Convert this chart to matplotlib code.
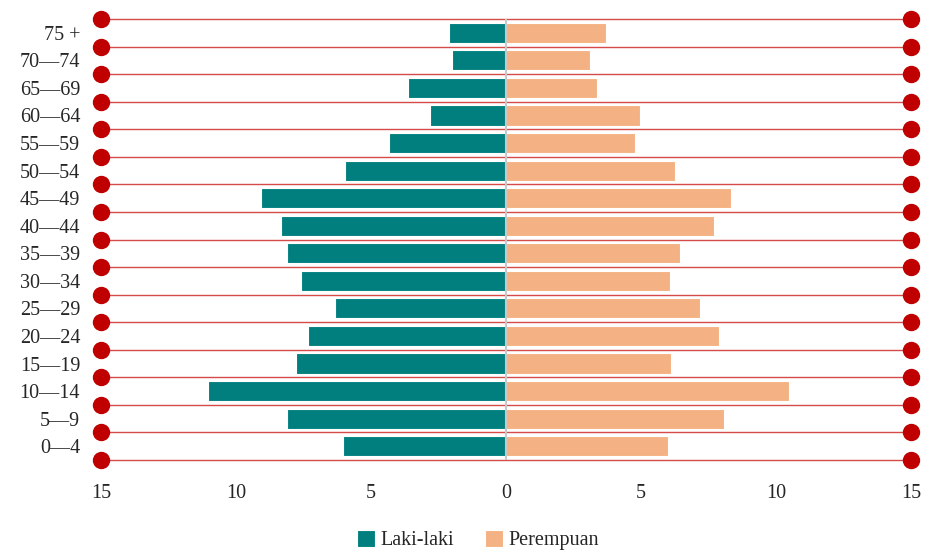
import matplotlib
matplotlib.use("Agg")
import matplotlib.pyplot as plt
import numpy as np

categories = ["0—4", "5—9", "10—14", "15—19", "20—24", "25—29", "30—34", "35—39",
              "40—44", "45—49", "50—54", "55—59", "60—64", "65—69", "70—74", "75 +"]
laki = [6.04, 8.11, 11.04, 7.78, 7.33, 6.33, 7.59, 8.11, 8.33, 9.07, 5.96, 4.33, 2.81, 3.63, 2.0, 2.11]
perempuan = [6.0, 8.07, 10.48, 6.11, 7.89, 7.19, 6.07, 6.44, 7.70, 8.33, 6.26, 4.78, 4.96, 3.37, 3.11, 3.70]
xticks = [-15, -10, -5, 0, 5, 10, 15]
xticklabels = ["15", "10", "5", "0", "5", "10", "15"]

plt.rcParams['font.family'] = ['Liberation Serif', 'DejaVu Serif']

fig = plt.figure(figsize=(9.25, 5.53), dpi=100)
ax = fig.add_axes([101/925, 1-460/553, (911-101)/925, (460-19)/553])

y = np.arange(len(categories))
ax.barh(y, [-v for v in laki], height=0.73, color="#017f7e", edgecolor="white", linewidth=0.8, label="Laki-laki", zorder=3)
ax.barh(y, perempuan, height=0.73, color="#f4b183", edgecolor="white", linewidth=0.8, label="Perempuan", zorder=3)

for b in np.arange(-0.5, len(categories), 1.0):
    ax.plot([-15, 15], [b, b], color="#d64a4a", linewidth=1.0, zorder=2,
            solid_capstyle="butt", clip_on=False)
    ax.plot([-15, 15], [b, b], linestyle="none", marker="o", markersize=11.5,
            color="#c00000", zorder=5, clip_on=False)

ax.axvline(0, color="#c8c8c8", linewidth=1.5, zorder=4)

ax.set_xlim(-15, 15)
ax.set_ylim(-0.5, len(categories) - 0.5)
ax.set_xticks(xticks)
ax.set_xticklabels(xticklabels, fontsize=14.5, color="#262626")
ax.set_yticks(y)
ax.set_yticklabels(categories, fontsize=14.5, color="#262626")
ax.tick_params(axis="both", length=0)
ax.tick_params(axis="y", pad=15)
ax.tick_params(axis="x", pad=17)
for s in ax.spines.values():
    s.set_visible(False)

fig.legend(loc="center", bbox_to_anchor=(478/925, 1-540/553), ncol=2, frameon=False,
           fontsize=14.5, handlelength=0.9, handleheight=0.9, handletextpad=0.3,
           columnspacing=1.5, labelcolor="#262626")

fig.savefig("out.png", dpi=100)
